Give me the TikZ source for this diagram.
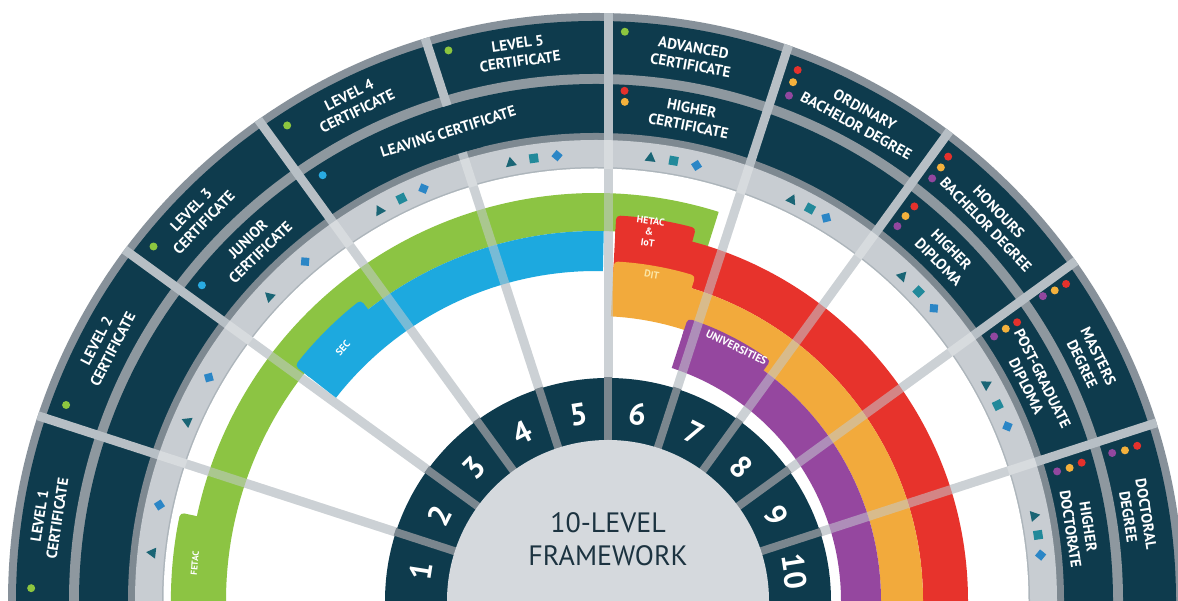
\documentclass[tikz,border=0pt]{standalone}
\usepackage{fontspec}
\setmainfont{PT Sans}
\definecolor{navy}{HTML}{0E3B4D}
\definecolor{outergray}{HTML}{87919A}
\definecolor{sepgray}{HTML}{8E989F}
\definecolor{bordgray}{HTML}{7E8991}
\definecolor{lightband}{HTML}{C8CDD2}
\definecolor{thingray}{HTML}{ADB5BB}
\definecolor{certsep}{HTML}{B7BFC5}
\definecolor{raywhite}{HTML}{D7DBDE}
\definecolor{raygray}{HTML}{C4CACF}
\definecolor{raydark}{HTML}{7A868E}
\definecolor{innerfill}{HTML}{D5D9DD}
\definecolor{fgreen}{HTML}{8CC443}
\definecolor{fblue}{HTML}{1DA9DF}
\definecolor{fred}{HTML}{E7332C}
\definecolor{forange}{HTML}{F2AA3C}
\definecolor{fpurple}{HTML}{95479F}
\definecolor{symtri}{HTML}{1A6575}
\definecolor{symsq}{HTML}{22899A}
\definecolor{symdia}{HTML}{2B86C6}
\definecolor{dotgreen}{HTML}{8DC63F}
\definecolor{dotblue}{HTML}{29ABE2}
\definecolor{dotred}{HTML}{E5312C}
\definecolor{dotorange}{HTML}{F4B13C}
\definecolor{dotpurple}{HTML}{92479F}
\definecolor{ditcol}{HTML}{FBE6A6}
\definecolor{titlecol}{HTML}{1C3340}
\tikzset{
  certlabel/.style={text=white, font=\fontsize{15}{18}\selectfont\bfseries, align=center, inner sep=0pt},
  numlabel/.style={text=white, font=\fontsize{31}{31}\selectfont\bfseries, inner sep=0pt},
  provlabel/.style={text=white, font=\fontsize{10}{11}\selectfont\bfseries, align=center, inner sep=0pt},
  titlelabel/.style={text=titlecol, font=\fontsize{28}{33}\selectfont, align=center, inner sep=0pt},
}
\newcommand\annsec[5]{\fill[#1] (#2:#4) arc[start angle=#2,end angle=#3,radius=#4] -- (#3:#5) arc[start angle=#3,end angle=#2,radius=#5] -- cycle;}
\newcommand\ptri[1]{\fill[symtri,shift={(#1:447)},rotate=#1-90] (0,5.5) -- (-5.5,-4) -- (5.5,-4) -- cycle;}
\newcommand\psq[1]{\fill[symsq,shift={(#1:447)},rotate=#1-90] (-4.5,-4.5) rectangle (4.5,4.5);}
\newcommand\pdia[1]{\fill[symdia,shift={(#1:447)},rotate=#1-45] (-4,-4) rectangle (4,4);}
\newcommand\pdot[3]{\fill[#1] (#2:#3) circle[radius=4];}
\begin{document}
\begin{tikzpicture}[x=1pt,y=1pt]
\useasboundingbox (0,0) rectangle (1178,601);
\clip (0,0) rectangle (1178,601);
\fill[white] (0,0) rectangle (1178,601);
\begin{scope}[shift={(596,0)}]
  % certificate rings
  \fill[outergray] (0,0) circle[radius=588];
  \fill[navy] (0,0) circle[radius=580];
  \fill[sepgray] (0,0) circle[radius=527];
  \fill[navy] (0,0) circle[radius=517];
  \fill[bordgray] (0,0) circle[radius=468];
  \begin{scope}
    \clip (0,0) circle[radius=588];
    \foreach \a in {18,36,...,162} \draw[line width=9pt, certsep] (12,0) -- ++(\a:640);
  \end{scope}
  \annsec{navy}{104}{109.5}{468}{517}
  % light symbol band
  \fill[lightband] (0,0) circle[radius=461];
  \fill[thingray] (0,0) circle[radius=434];
  \fill[white] (0,0) circle[radius=432.5];
  \begin{scope}
    \clip (0,0) circle[radius=461];
    \foreach \a in {18,36,...,162} \draw[line width=9pt, raywhite] (12,0) -- ++(\a:640);
  \end{scope}
  % provider bands
  \annsec{fgreen}{72.5}{180}{370}{408}
  \annsec{fgreen,rounded corners=4pt}{168}{182}{398}{425}
  \annsec{fblue}{88.8}{142}{330}{370}
  \annsec{fblue,rounded corners=4pt}{128}{142}{360}{382}
  \annsec{fred}{0}{87}{327}{372}
  \annsec{fred,rounded corners=4pt}{75}{87}{360}{386}
  \annsec{forange}{0}{87}{285}{327}
  \annsec{forange,rounded corners=4pt}{73}{87}{315}{340}
  \annsec{fpurple}{0}{72}{245}{285}
  \annsec{fpurple,rounded corners=4pt}{54}{72}{275}{297}
  \begin{scope}
    \clip (0,0) circle[radius=432];
    \foreach \a in {18,36,...,162} \draw[line width=9pt, raygray, opacity=0.55] (12,0) -- ++(\a:640);
  \end{scope}
  % provider labels
  \node[provlabel, rotate=85, font=\fontsize{9}{10}\selectfont\bfseries] (fetac) at (174.6:403) {FETAC};
  \node[provlabel, rotate=48] (sec) at (135:358) {SEC};
  \node[provlabel, rotate=-8] (hetac) at (81.8:373) {HETAC\\\&\\IoT};
  \node[provlabel, rotate=-10, text=ditcol] (dit) at (80.3:331) {DIT};
  \node[provlabel, rotate=-26, font=\fontsize{11}{12}\selectfont\bfseries] (univ) at (61:290) {UNIVERSITIES};
  % symbols
  \ptri{173.8} \pdia{167.6}
  \ptri{156.3} \pdia{150}
  \ptri{137} \pdia{130.6}
  \ptri{119} \psq{115.8} \pdia{112.7}
  \ptri{101} \psq{98} \pdia{95}
  \ptri{83} \psq{80} \pdia{77}
  \ptri{64} \psq{61.4} \pdia{59}
  \ptri{46.7} \psq{43.8} \pdia{40.9}
  \ptri{29} \psq{26} \pdia{23}
  \ptri{11} \psq{8.5} \pdia{5.9}
  % dots
  \pdot{dotgreen}{178.7}{565}
  \pdot{dotgreen}{159.7}{565}
  \pdot{dotgreen}{141.3}{567}
  \pdot{dotgreen}{123}{567}
  \pdot{dotgreen}{105}{570}
  \pdot{dotgreen}{87.1}{570}
  \pdot{dotblue}{141.3}{505}
  \pdot{dotblue}{122.7}{506}
  \pdot{dotred}{86.8}{511} \pdot{dotorange}{86.7}{500}
  \pdot{dotred}{69.2}{568} \pdot{dotorange}{69.2}{555} \pdot{dotpurple}{69.1}{541}
  \pdot{dotred}{51.6}{567} \pdot{dotorange}{51.5}{554} \pdot{dotpurple}{51.5}{540}
  \pdot{dotred}{51.1}{507} \pdot{dotorange}{51.2}{494} \pdot{dotpurple}{51.2}{481}
  \pdot{dotred}{34}{567} \pdot{dotorange}{34.1}{554} \pdot{dotpurple}{34.3}{541}
  \pdot{dotred}{33.5}{505} \pdot{dotorange}{33.6}{492} \pdot{dotpurple}{33.6}{478}
  \pdot{dotred}{16}{563} \pdot{dotorange}{15.9}{550} \pdot{dotpurple}{16}{537}
  \pdot{dotred}{15.9}{505} \pdot{dotorange}{15.7}{492} \pdot{dotpurple}{15.7}{479}
  % certificate labels, outer ring
  \node[certlabel, rotate=81.3] (lv1) at (171.3:554) {LEVEL 1\\CERTIFICATE};
  \node[certlabel, rotate=62.5] (lv2) at (152.5:554) {LEVEL 2\\CERTIFICATE};
  \node[certlabel, rotate=46] (lv3) at (136:554) {LEVEL 3\\CERTIFICATE};
  \node[certlabel, rotate=26] (lv4) at (116:554) {LEVEL 4\\CERTIFICATE};
  \node[certlabel, rotate=8] (lv5) at (98:554) {LEVEL 5\\CERTIFICATE};
  \node[certlabel, rotate=-10] (adv) at (80:553) {ADVANCED\\CERTIFICATE};
  \node[certlabel, rotate=-28.7] (ord) at (61.3:551) {ORDINARY\\BACHELOR DEGREE};
  \node[certlabel, rotate=-46] (hon) at (44:551) {HONOURS\\BACHELOR DEGREE};
  \node[certlabel, rotate=-64] (mas) at (26:550) {MASTERS\\DEGREE};
  \node[certlabel, rotate=-81] (doc) at (9:548) {DOCTORAL\\DEGREE};
  % certificate labels, inner ring
  \node[certlabel, rotate=43.9] (jun) at (133.9:493) {JUNIOR\\CERTIFICATE};
  \node[certlabel, rotate=17.5] (leav) at (107.5:492) {LEAVING CERTIFICATE};
  \node[certlabel, rotate=-11] (hcert) at (79:493) {HIGHER\\CERTIFICATE};
  \node[certlabel, rotate=-45.3] (hdip) at (44.7:491) {HIGHER\\DIPLOMA};
  \node[certlabel, rotate=-63.5] (pgd) at (26.5:490) {POST-GRADUATE\\DIPLOMA};
  \node[certlabel, rotate=-81.4] (hdoc) at (8.6:489) {HIGHER\\DOCTORATE};
  % number ring
  \begin{scope}[shift={(12,0)}]
    \fill[navy] (0,0) circle[radius=223];
    \foreach \a in {18,36,...,162} \draw[line width=8pt, raydark] (\a:150) -- (\a:224);
    \fill[innerfill] (0,0) circle[radius=161];
    \foreach \k in {1,...,10} {
      \pgfmathsetmacro\t{189-18*\k}
      \node[numlabel, rotate=\t-90] (n\k) at (\t:189) {\k};
    }
    \node[titlelabel] (title) at (0,62) {10-LEVEL\\FRAMEWORK};
  \end{scope}
\end{scope}
\end{tikzpicture}
\end{document}
